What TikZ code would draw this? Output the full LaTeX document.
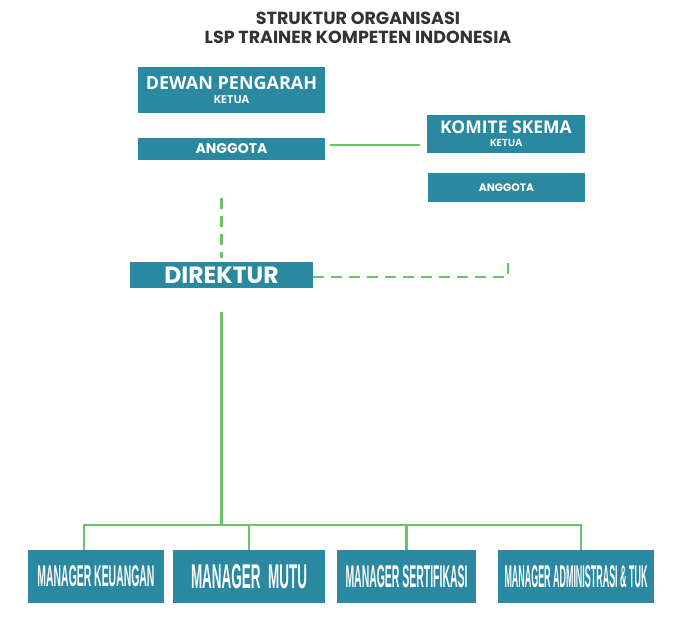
\documentclass[tikz,border=0pt]{standalone}
\usepackage{fontspec}
\usepackage{graphicx}
\setmainfont{Open Sans}
\newfontfamily\popfont{Poppins}
\newfontfamily\mgrfont{Liberation Sans}
\definecolor{kotak}{HTML}{2A89A0}
\definecolor{garis}{HTML}{6CC46A}
\definecolor{judulgray}{HTML}{333333}
% condensed label for the manager boxes
\newcommand{\mgrtext}[3]{\resizebox{#1}{#2}{\mgrfont\bfseries #3}}

\begin{document}
\begin{tikzpicture}[x=1pt, y=-1pt]
\tikzset{box/.style = {draw=none, fill=kotak, text=white, inner sep=0pt, align=center, font=\bfseries}}
\tikzset{link/.style = {draw=garis, line width=2.2pt, -}}
\tikzset{dashlink/.style = {link, dash pattern=on 11pt off 7pt}}
\useasboundingbox (0,0) rectangle (685,631);

% title
\node[text=judulgray, align=center, font=\popfont\bfseries\fontsize{17.5}{19}\selectfont] (judul) at (358,27.5)
  {STRUKTUR ORGANISASI\\LSP TRAINER KOMPETEN INDONESIA};

% upper boxes
\node[box, minimum width=187pt, minimum height=46pt] (dewan) at (231.5,90)
  {{\fontsize{18}{18}\selectfont DEWAN PENGARAH}\\[2pt]{\fontsize{11}{11}\selectfont KETUA}};
\node[box, minimum width=187pt, minimum height=22pt, font=\popfont\bfseries\fontsize{14}{14}\selectfont] (angL) at (231.5,149) {ANGGOTA};
\node[box, minimum width=158pt, minimum height=38pt] (komite) at (506,134)
  {{\fontsize{17.5}{17.5}\selectfont KOMITE SKEMA}\\[1pt]{\fontsize{10}{10}\selectfont KETUA}};
\node[box, minimum width=157pt, minimum height=29pt, font=\popfont\bfseries\fontsize{10.8}{10.8}\selectfont] (angR) at (506.5,187.5) {ANGGOTA};
\node[box, minimum width=183pt, minimum height=26pt, font=\popfont\bfseries\fontsize{23.5}{23.5}\selectfont] (direktur) at (221.5,275) {DIREKTUR};

% managers
\node[box, minimum width=136pt, minimum height=53pt] (m1) at (96,576.5) {\mgrtext{117pt}{21pt}{MANAGER KEUANGAN}};
\node[box, minimum width=152pt, minimum height=53pt] (m2) at (249,576.5) {\mgrtext{116pt}{24pt}{MANAGER\ \ MUTU}};
\node[box, minimum width=139pt, minimum height=53pt] (m3) at (406.5,576.5) {\mgrtext{122pt}{22pt}{MANAGER SERTIFIKASI}};
\node[box, minimum width=156pt, minimum height=53pt] (m4) at (576,576.5) {\mgrtext{143pt}{22pt}{MANAGER ADMINISTRASI \& TUK}};
\coordinate (bus) at (220,525);

% connectors
\draw[link, shorten <=5pt, shorten >=7pt] ([yshift=4pt]angL.east) -- ([yshift=4pt]angL.east -| komite.west);
\draw[dashlink, shorten <=38pt, shorten >=4pt] (direktur.north |- angL.south) -- (direktur.north);
\draw[dashlink, shorten >=55pt] ([yshift=-2pt]direktur.east) -| ([xshift=1.5pt]angR.south);
\draw[link, shorten <=24pt] (direktur.south) -- (direktur.south |- bus);
\draw[link] ([xshift=-12pt]m1.north) -- ([xshift=-12pt]m1.north |- bus) -- ([xshift=5pt]m4.north |- bus) -- ([xshift=5pt]m4.north);
\foreach \m in {m2,m3}
  \draw[link] (\m.north) -- (\m.north |- bus);

\end{tikzpicture}
\end{document}
